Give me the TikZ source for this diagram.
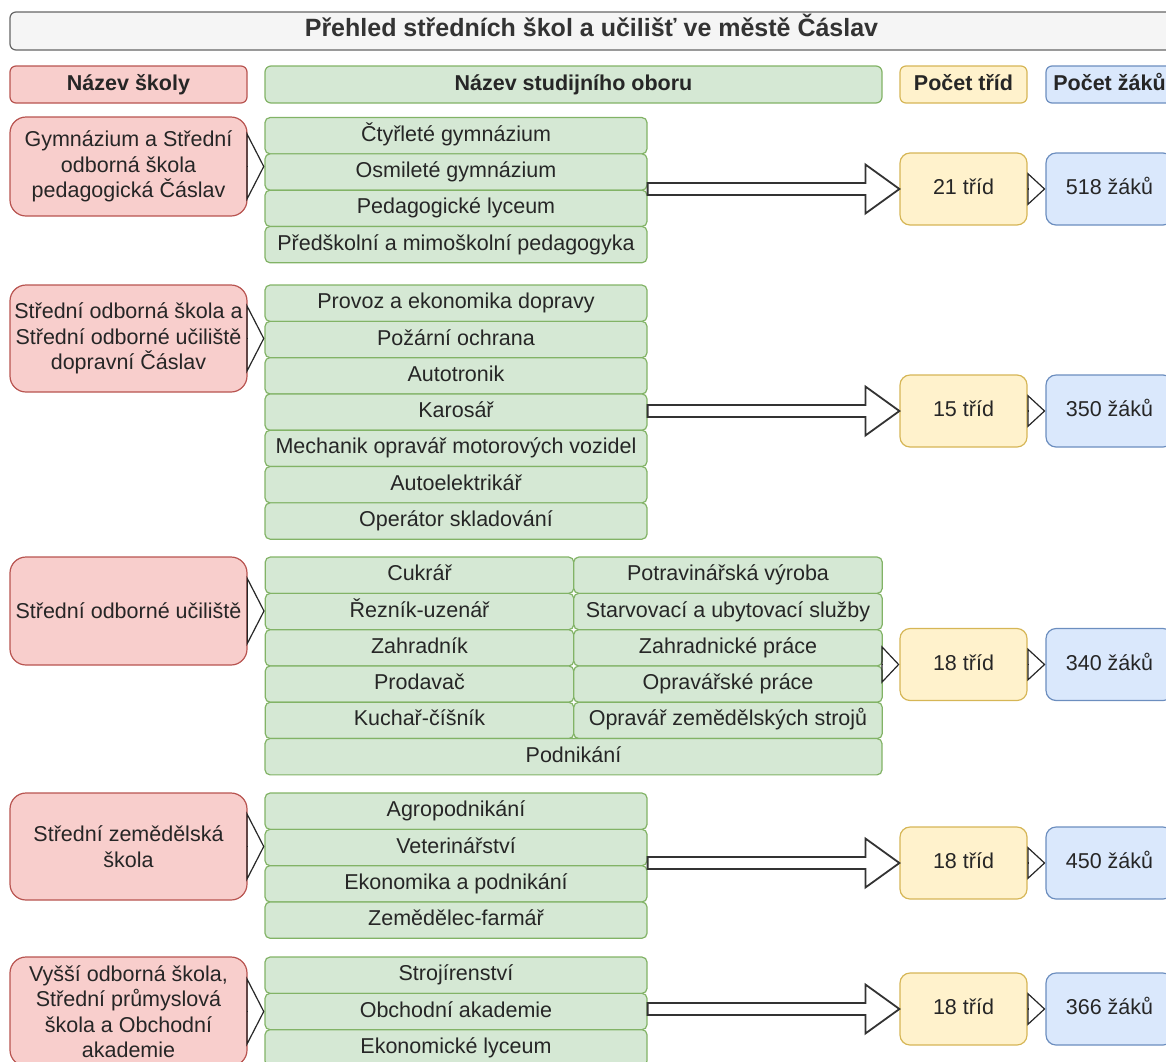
\documentclass[tikz,border=0pt]{standalone}
\usepackage{fontspec}
\setmainfont{Liberation Sans}
\usetikzlibrary{positioning,arrows.meta}

\definecolor{redfill}{HTML}{F8CECC}
\definecolor{redline}{HTML}{B85450}
\definecolor{greenfill}{HTML}{D5E8D4}
\definecolor{greenline}{HTML}{82B366}
\definecolor{yellowfill}{HTML}{FFF2CC}
\definecolor{yellowline}{HTML}{D6B656}
\definecolor{bluefill}{HTML}{DAE8FC}
\definecolor{blueline}{HTML}{6C8EBF}
\definecolor{titlefill}{HTML}{F5F5F5}
\definecolor{titleline}{HTML}{666666}
\definecolor{darktext}{HTML}{333333}

\tikzset{
  box/.style={draw, line width=1.2pt, align=center, inner sep=1pt,
    font=\fontsize{21.5}{25.5}\selectfont, text=black!85},
  oneline/.style={text height=16pt, text depth=5pt},
  heading/.style={box, oneline, minimum height=37pt, font=\fontsize{21.5}{25.5}\selectfont\bfseries},
  school/.style={box, fill=redfill, draw=redline, rounded corners=16pt, minimum width=237pt},
  field/.style={box, oneline, fill=greenfill, draw=greenline, rounded corners=5pt,
    minimum width=382pt, minimum height=36.3pt},
  halffield/.style={field, minimum width=308.5pt},
  classes/.style={box, oneline, fill=yellowfill, draw=yellowline, rounded corners=10pt,
    minimum width=127pt, minimum height=72pt},
  pupils/.style={box, oneline, fill=bluefill, draw=blueline, rounded corners=10pt,
    minimum width=127pt, minimum height=72pt},
  tri/.style={-{Triangle[open,length=18pt,width=#1]}, line width=1.2pt, draw=black!85},
  fatarrow/.style={draw=darktext, fill=white, line width=1.8pt, line join=miter}
}

% hollow block arrow from a point to a node anchor
\newcommand\fatarrow[2]{%
  \path (#1) coordinate (fa-s) (#2) coordinate (fa-e);
  \draw[fatarrow] ([yshift=6pt]fa-s) -- ([xshift=-34pt,yshift=6pt]fa-e)
    -- ([xshift=-34pt,yshift=24.5pt]fa-e) -- (fa-e)
    -- ([xshift=-34pt,yshift=-24.5pt]fa-e) -- ([xshift=-34pt,yshift=-6pt]fa-e)
    -- ([yshift=-6pt]fa-s) -- cycle;}

\begin{document}
\begin{tikzpicture}[x=1pt, y=-1pt, node distance=36.3pt, on grid]
  \useasboundingbox (0,0) rectangle (1166,1061);

  \node[box, oneline, fill=titlefill, draw=titleline, text=darktext, rounded corners=6pt,
    minimum width=1163pt, minimum height=38pt,
    font=\fontsize{25}{28}\selectfont\bfseries] (title) at (591.5,31)
    {Přehled středních škol a učilišť ve městě Čáslav};

  % header row
  \node[heading, fill=redfill, draw=redline, rounded corners=6pt, minimum width=237pt] (hschool) at (128.5,84.5) {Název školy};
  \node[heading, fill=greenfill, draw=greenline, rounded corners=6pt, minimum width=617pt] (hfield) at (573.5,84.5) {Název studijního oboru};
  \node[heading, fill=yellowfill, draw=yellowline, rounded corners=6pt, minimum width=127pt] (hclass) at (963.5,84.5) {Počet tříd};
  \node[heading, fill=bluefill, draw=blueline, rounded corners=6pt, minimum width=127pt] (hpupil) at (1109.5,84.5) {Počet žáků};

  % Gymnazium
  \node[school, minimum height=99pt] (r1) at (128.5,166.5) {Gymnázium a Střední\\odborná škola\\pedagogická Čáslav};
  \node[field] (g1a) at (456,135.7) {Čtyřleté gymnázium};
  \node[field] (g1b) [below=of g1a] {Osmileté gymnázium};
  \node[field] (g1c) [below=of g1b] {Pedagogické lyceum};
  \node[field] (g1d) [below=of g1c] {Předškolní a mimoškolní pedagogyka};
  \node[classes] (t1) at (963.5,189) {21 tříd};
  \node[pupils] (p1) [right=146pt of t1] {518 žáků};

  % SOS a SOU dopravni
  \node[school, minimum height=107pt] (r2) at (128.5,338.5) {Střední odborná škola a\\Střední odborné učiliště\\dopravní Čáslav};
  \node[field] (g2a) at (456,303.2) {Provoz a ekonomika dopravy};
  \node[field] (g2b) [below=of g2a] {Požární ochrana};
  \node[field] (g2c) [below=of g2b] {Autotronik};
  \node[field] (g2d) [below=of g2c] {Karosář};
  \node[field] (g2e) [below=of g2d] {Mechanik opravář motorových vozidel};
  \node[field] (g2f) [below=of g2e] {Autoelektrikář};
  \node[field] (g2g) [below=of g2f] {Operátor skladování};
  \node[classes] (t2) at (963.5,411) {15 tříd};
  \node[pupils] (p2) [right=146pt of t2] {350 žáků};

  % SOU
  \node[school, minimum height=108pt] (r3) at (128.5,611) {Střední odborné učiliště};
  \node[halffield] (g3a) at (419.5,575.2) {Cukrář};
  \node[halffield] (g3b) [below=of g3a] {Řezník-uzenář};
  \node[halffield] (g3c) [below=of g3b] {Zahradník};
  \node[halffield] (g3d) [below=of g3c] {Prodavač};
  \node[halffield] (g3e) [below=of g3d] {Kuchař-číšník};
  \node[halffield] (h3a) [right=308.5pt of g3a] {Potravinářská výroba};
  \node[halffield] (h3b) [below=of h3a] {Starvovací a ubytovací služby};
  \node[halffield] (h3c) [below=of h3b] {Zahradnické práce};
  \node[halffield] (h3d) [below=of h3c] {Opravářské práce};
  \node[halffield] (h3e) [below=of h3d] {Opravář zemědělských strojů};
  \node[field, minimum width=617pt] (g3f) at (573.5,756.7) {Podnikání};
  \node[classes] (t3) at (963.5,664.5) {18 tříd};
  \node[pupils] (p3) [right=146pt of t3] {340 žáků};

  % SZS
  \node[school, minimum height=107pt] (r4) at (128.5,846.5) {Střední zemědělská\\škola};
  \node[field] (g4a) at (456,811.2) {Agropodnikání};
  \node[field] (g4b) [below=of g4a] {Veterinářství};
  \node[field] (g4c) [below=of g4b] {Ekonomika a podnikání};
  \node[field] (g4d) [below=of g4c] {Zemědělec-farmář};
  \node[classes] (t4) at (963.5,863) {18 tříd};
  \node[pupils] (p4) [right=146pt of t4] {450 žáků};

  % VOS, SPS a OA
  \node[school, minimum height=109pt] (r5) at (128.5,1011.5) {Vyšší odborná škola,\\Střední průmyslová\\škola a Obchodní\\akademie};
  \node[field] (g5a) at (456,975.2) {Strojírenství};
  \node[field] (g5b) [below=of g5a] {Obchodní akademie};
  \node[field] (g5c) [below=of g5b] {Ekonomické lyceum};
  \node[classes] (t5) at (963.5,1009) {18 tříd};
  \node[pupils] (p5) [right=146pt of t5] {366 žáků};

  % school -> fields
  \draw[tri=70pt] (r1.east) -- (r1.east -| g1a.west);
  \draw[tri=70pt] (r2.east) -- (r2.east -| g2a.west);
  \draw[tri=70pt] (r3.east) -- (r3.east -| g3a.west);
  \draw[tri=70pt] (r4.east) -- (r4.east -| g4a.west);
  \draw[tri=70pt] (r5.east) -- (r5.east -| g5a.west);

  % fields -> classes
  \fatarrow{g1b.east |- t1.west}{t1.west}
  \fatarrow{g2d.east |- t2.west}{t2.west}
  \draw[tri=38pt] (h3c.east |- t3.west) -- (t3.west);
  \fatarrow{g4b.east |- t4.west}{t4.west}
  \fatarrow{g5b.east |- t5.west}{t5.west}

  % classes -> pupils
  \draw[tri=33pt] (t1.east) -- (p1.west);
  \draw[tri=33pt] (t2.east) -- (p2.west);
  \draw[tri=33pt] (t3.east) -- (p3.west);
  \draw[tri=33pt] (t4.east) -- (p4.west);
  \draw[tri=33pt] (t5.east) -- (p5.west);
\end{tikzpicture}
\end{document}
